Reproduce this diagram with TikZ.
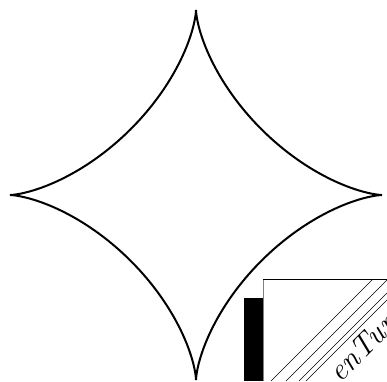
\documentclass[tikz,border=0pt]{standalone}
\begin{document}
\begin{tikzpicture}[x=1pt, y=-1pt]
    \useasboundingbox (0,0) rectangle (387,381);

    % Astroid
    \draw[line width=2pt, domain=0:360, samples=361, variable=\t]
        plot ({196 + 186*cos(\t)*cos(\t)*cos(\t)}, {195 + 185*sin(\t)*sin(\t)*sin(\t)});

    % Sheet in the corner, with its shadow
    \fill[black] (244,298) rectangle (263,381);
    \fill[white] (263,279) rectangle (387,381);
    \draw[gray, line width=0.8pt] (263,381) -- (263,279);
    \draw[line width=1pt] (263,279) -- (387,279);

    % Stripes and title
    \begin{scope}
      \clip (263,279) rectangle (387,381);
      \foreach \s in {652,667,680,687}
        \draw[line width=0.6pt] ({\s-381},381) -- ({\s-279},279);
      \node[rotate=45, anchor=base, inner sep=0pt,
            font=\itshape\fontsize{31}{31}\selectfont] (title) at (369,355) {enTur};
    \end{scope}
\end{tikzpicture}
\end{document}
